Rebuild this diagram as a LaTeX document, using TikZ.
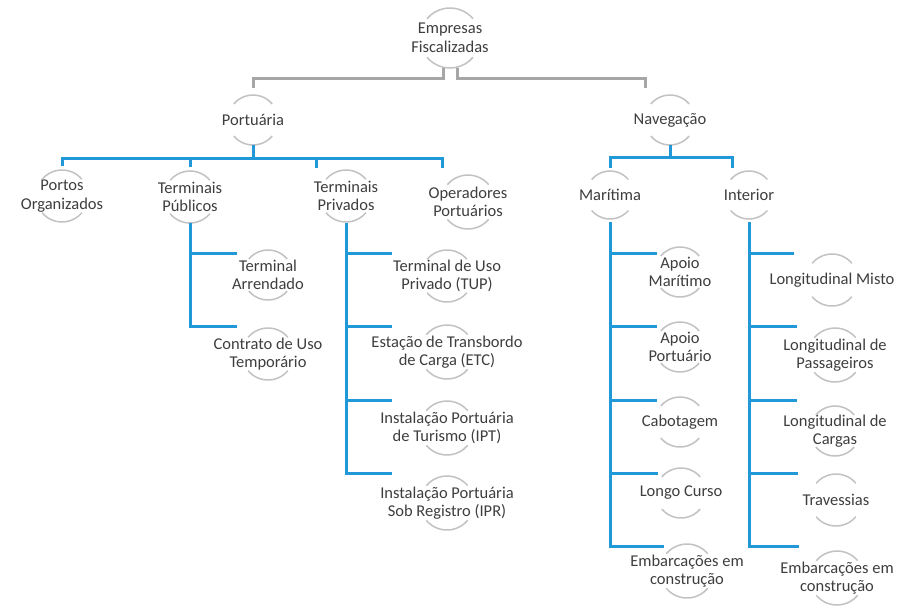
\documentclass[tikz,border=0pt]{standalone}
\usepackage{fontspec}
\setmainfont{Carlito}
\usetikzlibrary{calc}

\definecolor{txtgray}{HTML}{3E3E3E}
\definecolor{ringgray}{HTML}{C2C2C2}
\definecolor{linegray}{HTML}{A6A6A6}
\definecolor{lineblue}{HTML}{2198D8}

\tikzset{
  lbl/.style={text=txtgray, align=center, inner sep=0pt, font=\fontsize{16.5}{18.5}\selectfont},
  ring/.style={draw=ringgray, line width=1.5pt},
  gline/.style={draw=linegray, line width=3pt},
  bline/.style={draw=lineblue, line width=3pt}
}

\begin{document}
\begin{tikzpicture}[x=1pt, y=-1pt]
\fill[white] (0,0) rectangle (908,606);

% top levels
\node[lbl] (root) at (450,38) {Empresas\\Fiscalizadas};
\node[lbl] (port) at (253,120) {Portuária};
\node[lbl] (nav) at (670,120) {Navegação};

% Portuaria
\node[lbl] (portos) at (62,196) {Portos\\Organizados};
\node[lbl] (tpub) at (190,197) {Terminais\\Públicos};
\node[lbl] (tpriv) at (346,196) {Terminais\\Privados};
\node[lbl] (oper) at (468,202) {Operadores\\Portuários};

\node[lbl] (arr) at (268,275) {Terminal\\Arrendado};
\node[lbl] (ctu) at (268,354) {Contrato de Uso\\Temporário};

\node[lbl] (tup) at (447,276) {Terminal de Uso\\Privado (TUP)};
\node[lbl] (etc) at (447,352) {Estação de Transbordo\\de Carga (ETC)};
\node[lbl] (ipt) at (447,428) {Instalação Portuária\\de Turismo (IPT)};
\node[lbl] (ipr) at (447,503) {Instalação Portuária\\Sob Registro (IPR)};

% Navegacao
\node[lbl] (mar) at (610,195) {Marítima};
\node[lbl] (int) at (749,195) {Interior};

\node[lbl] (apm) at (680,272) {Apoio\\Marítimo};
\node[lbl] (app) at (680,347) {Apoio\\Portuário};
\node[lbl] (cab) at (680,422) {Cabotagem};
\node[lbl] (lon) at (681,493) {Longo Curso};
\node[lbl] (emm) at (687,571) {Embarcações em\\construção};

\node[lbl] (lmi) at (832,280) {Longitudinal Misto};
\node[lbl] (lpa) at (835,355) {Longitudinal de\\Passageiros};
\node[lbl] (lca) at (835,431) {Longitudinal de\\Cargas};
\node[lbl] (tra) at (836,500) {Travessias};
\node[lbl] (emi) at (837,578) {Embarcações em\\construção};

% rings
\foreach \n/\r in {root/30pt, port/25pt, nav/25pt, portos/26pt, tpub/26pt, tpriv/26pt,
    oper/27pt, mar/24pt, int/24pt, arr/25pt, ctu/26pt, tup/26pt, etc/27pt, ipt/27pt,
    ipr/27pt, apm/25pt, app/25pt, cab/25pt, lon/25pt, emm/27pt, lmi/26pt, lpa/27pt,
    lca/25pt, tra/26pt, emi/27pt}{
  \draw[ring] ($(\n)+(40:\r)$) arc[start angle=40, end angle=140, radius=\r];
  \draw[ring] ($(\n)+(220:\r)$) arc[start angle=220, end angle=320, radius=\r];
}

% gray links
\draw[gline] ($(root)+(-7,30)$) |- ($(port)+(0,-42)$) -- ($(port)+(0,-32)$);
\draw[gline] ($(root)+(7,30)$) |- ($(nav)+(-25,-42)$) -- ($(nav)+(-25,-32)$);

% blue links
\foreach \c/\dx/\dy in {portos/0/-30, tpub/0/-30, tpriv/-30/-28, oper/-26/-34}
  \draw[bline] ($(port)+(0,25)$) -- ($(port)+(0,38)$) -| ($(\c)+(\dx,\dy)$);
\foreach \c/\dx/\dy in {mar/0/-27, int/-17/-27}
  \draw[bline] ($(nav)+(0,25)$) -- ($(nav)+(0,37)$) -| ($(\c)+(\dx,\dy)$);

\foreach \c/\dy in {arr/-22, ctu/-28}
  \draw[bline] ($(tpub)+(0,26)$) |- ($(\c)+(-31,\dy)$);
\foreach \c/\dy in {tup/-23, etc/-26, ipt/-28, ipr/-30}
  \draw[bline] ($(tpriv)+(0,27)$) |- ($(\c)+(-55,\dy)$);
\foreach \c/\dy in {apm/-19, app/-21, cab/-22, lon/-20, emm/-25}
  \draw[bline] ($(mar)+(0,27)$) |- ($(\c)+(-23,\dy)$);
\foreach \c/\dy in {lmi/-27, lpa/-29, lca/-31, tra/-27, emi/-32}
  \draw[bline] ($(int)+(0,27)$) |- ($(\c)+(-38,\dy)$);
\end{tikzpicture}
\end{document}
